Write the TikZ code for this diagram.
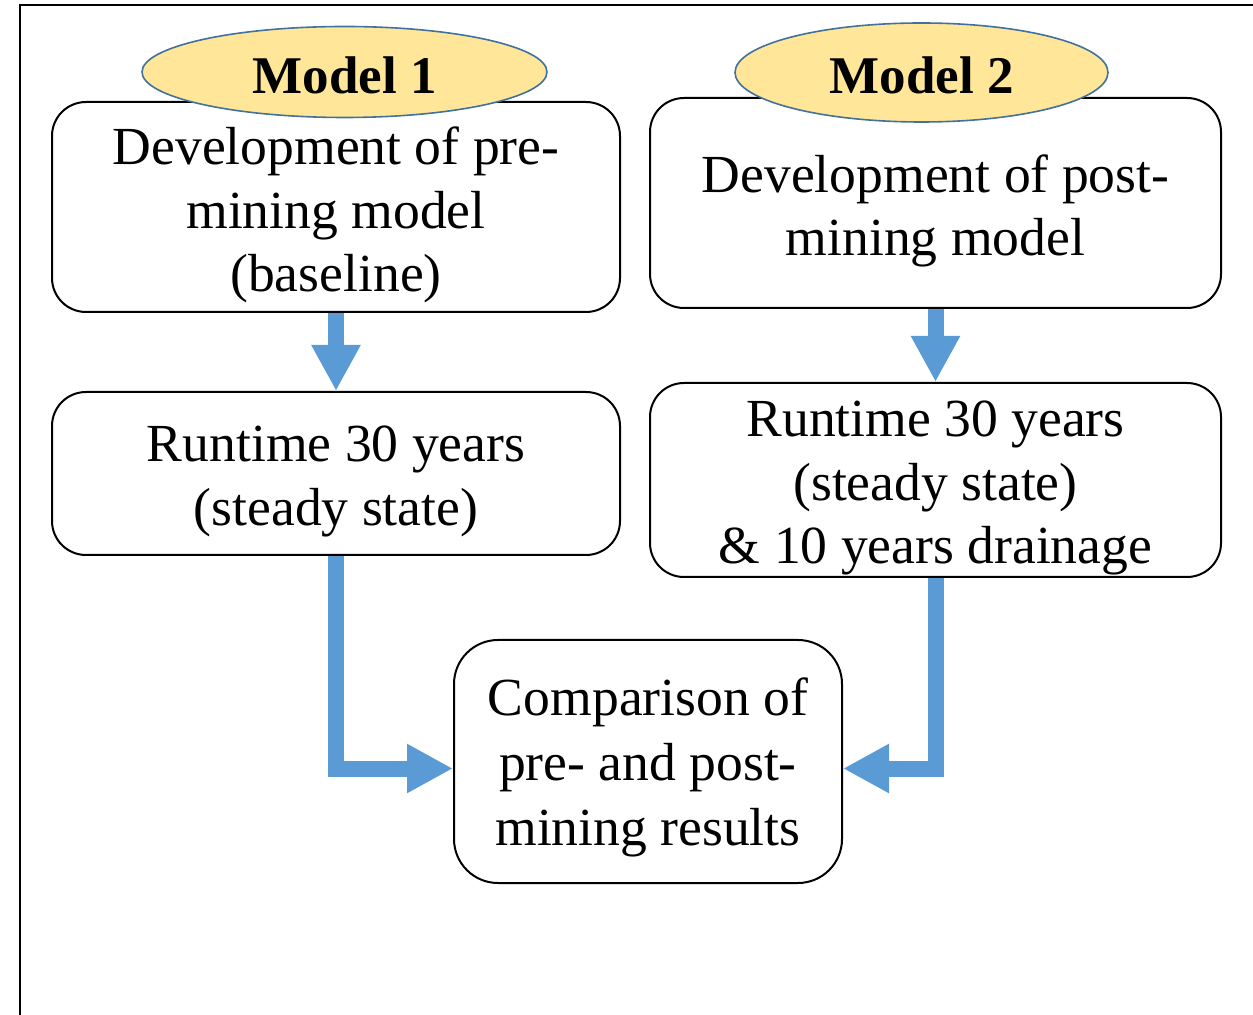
\documentclass[tikz,border=0pt]{standalone}
\usepackage{fontspec}
\setmainfont{Liberation Serif}
\usetikzlibrary{shapes.geometric,arrows.meta}
\definecolor{arrowblue}{HTML}{5B9BD5}
\definecolor{ellfill}{HTML}{FFE699}
\definecolor{ellline}{HTML}{41719C}
\tikzset{
  box/.style={draw=black, line width=1pt, rounded corners=17pt, fill=white, inner sep=0pt},
  boxtext/.style={align=center, inner sep=0pt, font=\fontsize{26.8}{31.8}\selectfont},
  tag/.style={ellipse, draw=ellline, line width=0.8pt, fill=ellfill, inner sep=0pt},
  tagtext/.style={inner sep=0pt, font=\fontsize{26.5}{31.5}\selectfont\bfseries},
  flow/.style={draw=arrowblue, line width=8pt, -{Triangle[width=23pt,length=23pt]}},
}
\begin{document}
\begin{tikzpicture}[x=0.5pt,y=-0.5pt]
\useasboundingbox (0,0) rectangle (1253,1015);
\draw[line width=0.9pt] (20,1015) -- (20,5) -- (1253,5);

\node[box, minimum width=284pt, minimum height=105pt] (A) at (336,207) {};
\node[boxtext] (At) at ([yshift=-4pt]A.center) {Development of pre-\\mining model\\(baseline)};
\node[box, minimum width=285.5pt, minimum height=105pt] (B) at (935.5,203) {};
\node[boxtext] (Bt) at ([yshift=-4pt]B.center) {Development of post-\\mining model};
\node[box, minimum width=284pt, minimum height=81.5pt] (C) at (336,473.5) {};
\node[boxtext] (Ct) at ([yshift=-4pt]C.center) {Runtime 30 years\\(steady state)};
\node[box, minimum width=285.5pt, minimum height=97pt] (D) at (935.5,480) {};
\node[boxtext] (Dt) at ([yshift=-4pt]D.center) {Runtime 30 years\\(steady state)\\\& 10 years drainage};
\node[box, rounded corners=22pt, minimum width=194pt, minimum height=121.5pt] (E) at (648,761.5) {};
\node[boxtext, font=\fontsize{26.8}{32.3}\selectfont] (Et) at ([yshift=-3pt]E.center) {Comparison of\\pre- and post-\\mining results};

\node[tag, minimum width=202.5pt, minimum height=45.5pt] (M1) at (344.5,72) {};
\node[tagtext] (M1t) at ([yshift=-1.5pt]M1.center) {Model 1};
\node[tag, minimum width=186.5pt, minimum height=49.5pt] (M2) at (921.5,72.5) {};
\node[tagtext] (M2t) at ([yshift=-1.5pt]M2.center) {Model 2};

\coordinate (El) at ([yshift=-3.5pt]E.west);
\coordinate (Er) at ([yshift=-3.5pt]E.east);
\draw[flow] (A.south) -- (C.north);
\draw[flow] (B.south) -- (D.north);
\draw[flow] (C.south) |- (El);
\draw[flow] (D.south) |- (Er);
\end{tikzpicture}
\end{document}
